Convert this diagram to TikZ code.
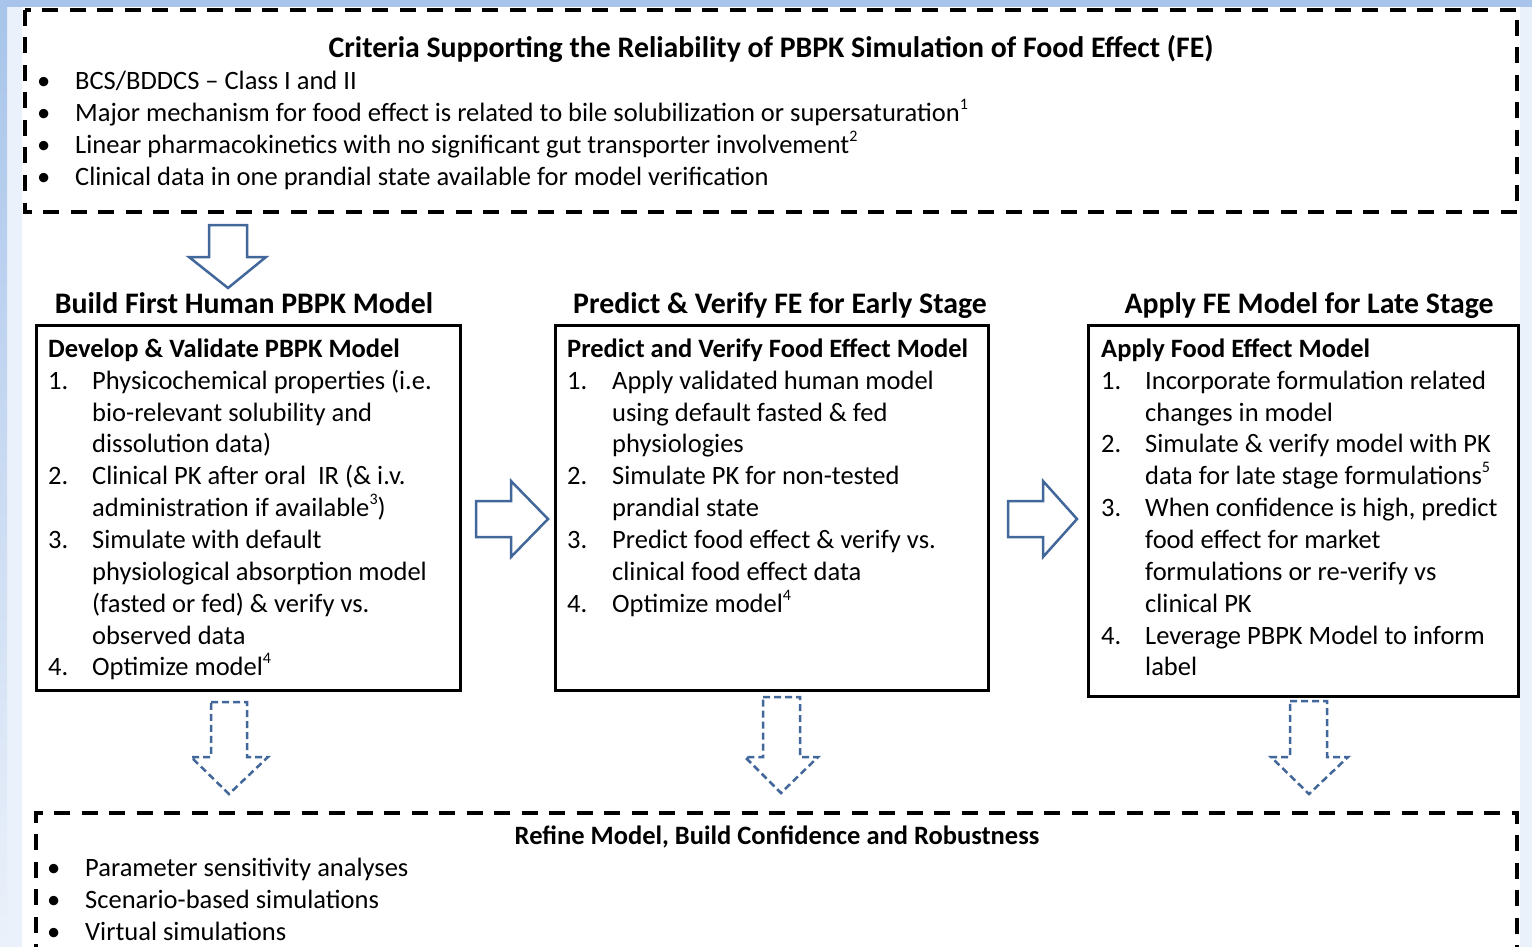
\documentclass[tikz,border=0pt]{standalone}
\usepackage{fontspec}
\setmainfont{Carlito}
\definecolor{bandblue}{RGB}{168,196,234}
\definecolor{paleblue}{RGB}{235,241,250}
\definecolor{arrowblue}{RGB}{65,103,155}
\tikzset{
  txt/.style={anchor=base west,inner sep=0pt,yshift=-1.5pt,font=\fontsize{26.5}{30}\selectfont},
  hd/.style={anchor=base west,inner sep=0pt,yshift=-1.5pt,font=\fontsize{26.5}{30}\selectfont\bfseries},
  ttl/.style={anchor=base,inner sep=0pt,yshift=-1.5pt,font=\fontsize{29.8}{32}\selectfont\bfseries},
  dashbox/.style={line width=4pt,dash pattern=on 16pt off 11.5pt},
  solidbox/.style={line width=3pt},
  blockarrow/.style={draw=arrowblue,line width=2.5pt,line join=miter,fill=white},
  dasharrow/.style={draw=arrowblue,line width=2.5pt,dash pattern=on 7pt off 4pt,fill=white},
}
\newcommand\tl[4]{\node[txt] (#1) at (#2,#3) {#4};}
\newcommand\sups[1]{\raisebox{0.45em}{\fontsize{16}{16}\selectfont #1}}
\begin{document}
\begin{tikzpicture}[x=1pt,y=-1pt]
\useasboundingbox (0,0) rectangle (1532,947);
\clip (0,0) rectangle (1532,947);
% background
\fill[paleblue] (0,0) rectangle (1532,947);
\shade[top color=bandblue,bottom color=paleblue] (0,0) rectangle (7,947);
\fill[bandblue] (0,0) rectangle (1532,7);
\fill[white] (22,7) rectangle (1520,947);

% top criteria box
\draw[dashbox] (25,10) rectangle (1517,212);
\node[ttl] (crit) at (771,56) {Criteria Supporting the Reliability of PBPK Simulation of Food Effect (FE)};
\foreach \n/\yy/\t in {c1/88/{BCS/BDDCS -- Class I and II},
  c2/120/{Major mechanism for food effect is related to bile solubilization or supersaturation\sups{1}},
  c3/152/{Linear pharmacokinetics with no significant gut transporter involvement\sups{2}},
  c4/184/{Clinical data in one prandial state available for model verification}}{
  \node[txt] (\n b) at (37,\yy) {•};
  \node[txt] (\n) at (75,\yy) {\t};
}

% top down arrow
\draw[blockarrow] (209,225)--(247,225)--(247,257)--(266,257)--(228,288)--(189,257)--(209,257)--cycle;

% stage headers
\node[ttl] (h1) at (244,312) {Build First Human PBPK Model};
\node[ttl] (h2) at (780,312) {Predict \& Verify FE for Early Stage};
\node[ttl] (h3) at (1309,312) {Apply FE Model for Late Stage};

% boxes
\draw[solidbox] (36,325) rectangle (460,690);
\draw[solidbox] (555,325) rectangle (988,690);
\draw[solidbox] (1088,325) rectangle (1518,696);

% box 1
\node[hd] (b1h) at (48,356) {Develop \& Validate PBPK Model};
\tl{b1n1}{48}{388}{1.}
\tl{b1a}{92}{388}{Physicochemical properties (i.e.}
\tl{b1b}{92}{420}{bio-relevant solubility and}
\tl{b1c}{92}{451}{dissolution data)}
\tl{b1n2}{48}{483}{2.}
\tl{b1d}{92}{483}{Clinical PK after oral\ \ IR (\& i.v.}
\tl{b1e}{92}{515}{administration if available\sups{3})}
\tl{b1n3}{48}{547}{3.}
\tl{b1f}{92}{547}{Simulate with default}
\tl{b1g}{92}{579}{physiological absorption model}
\tl{b1h2}{92}{611}{(fasted or fed) \& verify vs.}
\tl{b1i}{92}{643}{observed data}
\tl{b1n4}{48}{674}{4.}
\tl{b1j}{92}{674}{Optimize model\sups{4}}

% box 2
\node[hd] (b2h) at (567,356) {Predict and Verify Food Effect Model};
\tl{b2n1}{567}{388}{1.}
\tl{b2a}{612}{388}{Apply validated human model}
\tl{b2b}{612}{420}{using default fasted \& fed}
\tl{b2c}{612}{451}{physiologies}
\tl{b2n2}{567}{483}{2.}
\tl{b2d}{612}{483}{Simulate PK for non-tested}
\tl{b2e}{612}{515}{prandial state}
\tl{b2n3}{567}{547}{3.}
\tl{b2f}{612}{547}{Predict food effect \& verify vs.}
\tl{b2g}{612}{579}{clinical food effect data}
\tl{b2n4}{567}{611}{4.}
\tl{b2h2}{612}{611}{Optimize model\sups{4}}

% box 3
\node[hd] (b3h) at (1101,356) {Apply Food Effect Model};
\tl{b3n1}{1101}{388}{1.}
\tl{b3a}{1145}{388}{Incorporate formulation related}
\tl{b3b}{1145}{420}{changes in model}
\tl{b3n2}{1101}{451}{2.}
\tl{b3c}{1145}{451}{Simulate \& verify model with PK}
\tl{b3d}{1145}{483}{data for late stage formulations\sups{5}}
\tl{b3n3}{1101}{515}{3.}
\tl{b3e}{1145}{515}{When confidence is high, predict}
\tl{b3f}{1145}{547}{food effect for market}
\tl{b3g}{1145}{579}{formulations or re-verify vs}
\tl{b3h2}{1145}{611}{clinical PK}
\tl{b3n4}{1101}{643}{4.}
\tl{b3i}{1145}{643}{Leverage PBPK Model to inform}
\tl{b3j}{1145}{674}{label}

% right arrows
\draw[blockarrow] (476,501)--(511,501)--(511,481)--(548,519)--(511,557)--(511,537)--(476,537)--cycle;
\draw[blockarrow] (1008,501)--(1043,501)--(1043,481)--(1077,519)--(1043,557)--(1043,537)--(1008,537)--cycle;

% dashed down arrows
\draw[dasharrow] (211,702)--(247,702)--(247,757)--(268,757)--(229,794)--(191,757)--(211,757)--cycle;
\draw[dasharrow] (763,697)--(800,697)--(800,757)--(818,757)--(781,793)--(745,757)--(763,757)--cycle;
\draw[dasharrow] (1290,701)--(1327,701)--(1327,757)--(1348,757)--(1309,794)--(1271,757)--(1290,757)--cycle;

% bottom box
\draw[dashbox] (36,960) -- (36,813) -- (1517,813) -- (1517,960);
\node[ttl,font=\fontsize{26.5}{30}\selectfont\bfseries] (refine) at (777,843) {Refine Model, Build Confidence and Robustness};
\foreach \n/\yy/\t in {r1/875/{Parameter sensitivity analyses},
  r2/907/{Scenario-based simulations},
  r3/939/{Virtual simulations}}{
  \node[txt] (\n b) at (47,\yy) {•};
  \node[txt] (\n) at (85,\yy) {\t};
}
\end{tikzpicture}
\end{document}
